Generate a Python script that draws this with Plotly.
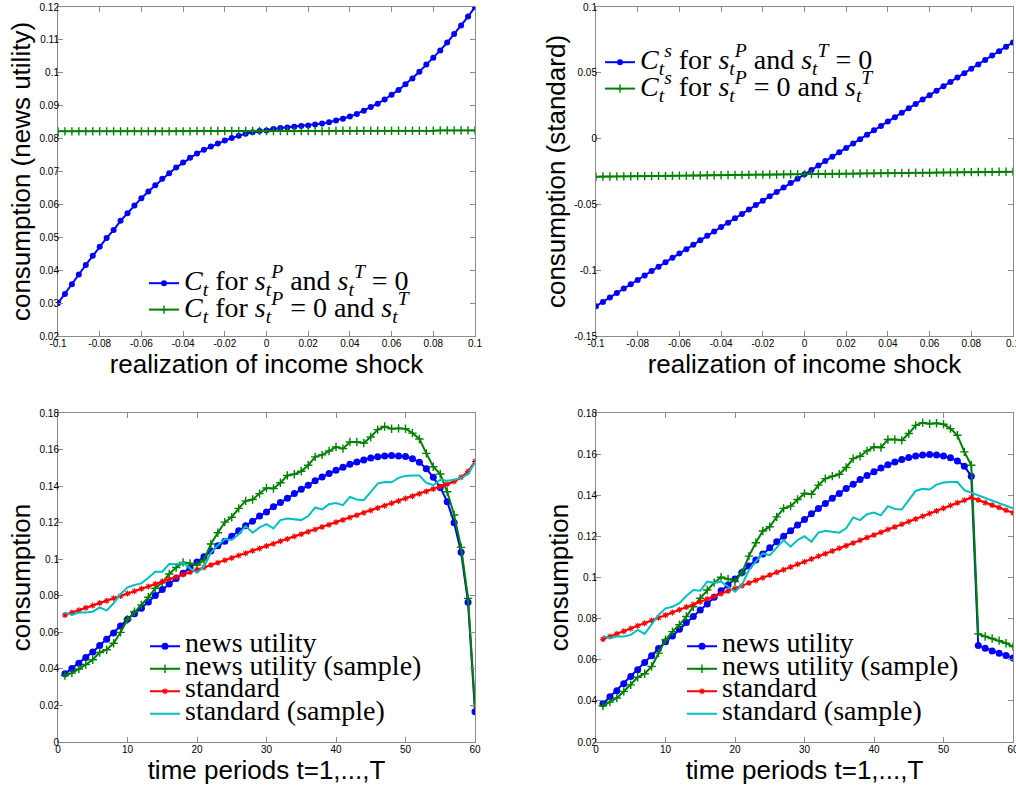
import plotly.graph_objects as go

# ---------------- data ----------------
# income-shock grid (61 evenly spaced realizations between -0.1 and 0.1)
shock = [round(-0.1 + i / 300.0, 6) for i in range(61)]

# top-left: news-utility consumption
nu_perm = [0.0300, 0.0328, 0.0357, 0.0387, 0.0416, 0.0444, 0.0471, 0.0498, 0.0522, 0.0550,
           0.0573, 0.0597, 0.0619, 0.0639, 0.0658, 0.0678, 0.0695, 0.0712, 0.0727, 0.0742,
           0.0755, 0.0766, 0.0776, 0.0785, 0.0794, 0.0802, 0.0809, 0.0815, 0.0819, 0.0823,
           0.0825, 0.0829, 0.0832, 0.0834, 0.0836, 0.0838, 0.0840, 0.0843, 0.0846, 0.0850,
           0.0855, 0.0860, 0.0867, 0.0875, 0.0885, 0.0896, 0.0906, 0.0919, 0.0933, 0.0948,
           0.0965, 0.0983, 0.1003, 0.1025, 0.1046, 0.1068, 0.1092, 0.1118, 0.1144, 0.1171,
           0.1200]
nu_trans = [0.0822, 0.0822, 0.0822, 0.0822, 0.0822, 0.0822, 0.0822, 0.0822, 0.0822, 0.0822,
            0.0822, 0.0822, 0.0822, 0.0822, 0.0822, 0.0822, 0.0822, 0.0822, 0.0822, 0.0822,
            0.0823, 0.0823, 0.0823, 0.0823, 0.0823, 0.0823, 0.0823, 0.0823, 0.0823, 0.0823,
            0.0823, 0.0823, 0.0823, 0.0823, 0.0823, 0.0823, 0.0823, 0.0823, 0.0823, 0.0823,
            0.0824, 0.0824, 0.0824, 0.0824, 0.0824, 0.0824, 0.0824, 0.0824, 0.0824, 0.0824,
            0.0824, 0.0824, 0.0824, 0.0824, 0.0824, 0.0825, 0.0825, 0.0825, 0.0825, 0.0825,
            0.0825]

# top-right: standard consumption
st_perm = [-0.1274, -0.1241, -0.1207, -0.1174, -0.1140, -0.1107, -0.1074, -0.1040, -0.1007, -0.0973,
           -0.0940, -0.0906, -0.0873, -0.0840, -0.0806, -0.0773, -0.0739, -0.0706, -0.0672, -0.0639,
           -0.0606, -0.0572, -0.0539, -0.0505, -0.0472, -0.0439, -0.0405, -0.0372, -0.0338, -0.0305,
           -0.0271, -0.0238, -0.0205, -0.0171, -0.0138, -0.0104, -0.0071, -0.0038, -0.0004, 0.0029,
           0.0063, 0.0096, 0.0130, 0.0163, 0.0196, 0.0230, 0.0263, 0.0297, 0.0330, 0.0364,
           0.0397, 0.0430, 0.0464, 0.0497, 0.0531, 0.0564, 0.0597, 0.0631, 0.0664, 0.0698,
           0.0731]
st_trans = [-0.0289, -0.0288, -0.0288, -0.0287, -0.0287, -0.0286, -0.0285, -0.0285, -0.0284, -0.0283,
            -0.0283, -0.0282, -0.0281, -0.0281, -0.0280, -0.0280, -0.0279, -0.0278, -0.0278, -0.0277,
            -0.0276, -0.0276, -0.0275, -0.0274, -0.0274, -0.0273, -0.0273, -0.0272, -0.0271, -0.0271,
            -0.0270, -0.0269, -0.0269, -0.0268, -0.0267, -0.0267, -0.0266, -0.0266, -0.0265, -0.0264,
            -0.0264, -0.0263, -0.0262, -0.0262, -0.0261, -0.0261, -0.0260, -0.0259, -0.0259, -0.0258,
            -0.0257, -0.0257, -0.0256, -0.0255, -0.0255, -0.0254, -0.0254, -0.0253, -0.0252, -0.0252,
            -0.0251]

# life-cycle profiles, t = 1..60
periods = list(range(1, 61))

bl_news = [0.0373, 0.0402, 0.0431, 0.0462, 0.0493, 0.0528, 0.0562, 0.0597, 0.0635, 0.0672,
           0.0702, 0.0732, 0.0766, 0.0801, 0.0835, 0.0864, 0.0895, 0.0923, 0.0954, 0.0985,
           0.1014, 0.1045, 0.1074, 0.1099, 0.1126, 0.1156, 0.1183, 0.1208, 0.1236, 0.1259,
           0.1287, 0.1310, 0.1334, 0.1359, 0.1383, 0.1405, 0.1429, 0.1450, 0.1469, 0.1487,
           0.1503, 0.1520, 0.1532, 0.1543, 0.1554, 0.1561, 0.1565, 0.1567, 0.1565, 0.1562,
           0.1550, 0.1530, 0.1495, 0.1448, 0.1393, 0.1315, 0.1200, 0.1038, 0.0764, 0.0166]
bl_news_s = [0.0364, 0.0377, 0.0399, 0.0424, 0.0450, 0.0490, 0.0505, 0.0540, 0.0600, 0.0670,
             0.0713, 0.0750, 0.0792, 0.0841, 0.0872, 0.0919, 0.0955, 0.0983, 0.0977, 0.0968,
             0.0995, 0.1083, 0.1145, 0.1203, 0.1230, 0.1278, 0.1319, 0.1327, 0.1359, 0.1390,
             0.1387, 0.1418, 0.1458, 0.1465, 0.1481, 0.1514, 0.1560, 0.1571, 0.1592, 0.1614,
             0.1605, 0.1641, 0.1641, 0.1636, 0.1669, 0.1709, 0.1726, 0.1714, 0.1716, 0.1714,
             0.1690, 0.1658, 0.1579, 0.1506, 0.1466, 0.1369, 0.1242, 0.1065, 0.0786, 0.0199]
bl_std = [0.0695, 0.0708, 0.0721, 0.0734, 0.0747, 0.0760, 0.0773, 0.0786, 0.0799, 0.0812,
          0.0825, 0.0838, 0.0851, 0.0864, 0.0877, 0.0890, 0.0903, 0.0916, 0.0929, 0.0942,
          0.0955, 0.0968, 0.0981, 0.0994, 0.1007, 0.1020, 0.1033, 0.1046, 0.1059, 0.1072,
          0.1085, 0.1098, 0.1111, 0.1124, 0.1137, 0.1150, 0.1163, 0.1176, 0.1189, 0.1202,
          0.1215, 0.1228, 0.1241, 0.1254, 0.1267, 0.1280, 0.1293, 0.1306, 0.1319, 0.1332,
          0.1345, 0.1358, 0.1371, 0.1384, 0.1397, 0.1410, 0.1425, 0.1448, 0.1480, 0.1535]
bl_std_s = [0.0708, 0.0695, 0.0708, 0.0708, 0.0713, 0.0737, 0.0719, 0.0759, 0.0810, 0.0846,
            0.0859, 0.0868, 0.0899, 0.0932, 0.0932, 0.0974, 0.0972, 0.0981, 0.0950, 0.0926,
            0.0959, 0.1037, 0.1077, 0.1110, 0.1105, 0.1137, 0.1181, 0.1145, 0.1174, 0.1192,
            0.1168, 0.1214, 0.1223, 0.1217, 0.1214, 0.1236, 0.1283, 0.1272, 0.1301, 0.1308,
            0.1296, 0.1341, 0.1327, 0.1323, 0.1369, 0.1414, 0.1423, 0.1421, 0.1445, 0.1456,
            0.1458, 0.1458, 0.1418, 0.1405, 0.1435, 0.1430, 0.1435, 0.1445, 0.1465, 0.1530]

br_news = [0.0386, 0.0420, 0.0449, 0.0483, 0.0519, 0.0551, 0.0587, 0.0619, 0.0655, 0.0687,
           0.0716, 0.0748, 0.0781, 0.0810, 0.0842, 0.0871, 0.0904, 0.0935, 0.0964, 0.0993,
           0.1024, 0.1056, 0.1085, 0.1114, 0.1145, 0.1174, 0.1201, 0.1227, 0.1255, 0.1282,
           0.1310, 0.1336, 0.1360, 0.1386, 0.1409, 0.1433, 0.1454, 0.1477, 0.1496, 0.1514,
           0.1533, 0.1548, 0.1562, 0.1574, 0.1583, 0.1591, 0.1596, 0.1598, 0.1596, 0.1591,
           0.1582, 0.1567, 0.1541, 0.1493, 0.0669, 0.0656, 0.0643, 0.0632, 0.0621, 0.0608]
br_news_s = [0.0376, 0.0394, 0.0414, 0.0446, 0.0478, 0.0515, 0.0532, 0.0567, 0.0632, 0.0697,
             0.0737, 0.0770, 0.0810, 0.0858, 0.0899, 0.0939, 0.0975, 0.1001, 0.0993, 0.0980,
             0.1024, 0.1104, 0.1169, 0.1226, 0.1247, 0.1295, 0.1336, 0.1347, 0.1379, 0.1409,
             0.1405, 0.1449, 0.1481, 0.1493, 0.1502, 0.1535, 0.1578, 0.1590, 0.1616, 0.1635,
             0.1632, 0.1671, 0.1671, 0.1667, 0.1700, 0.1740, 0.1753, 0.1748, 0.1750, 0.1745,
             0.1724, 0.1692, 0.1611, 0.1546, 0.0726, 0.0713, 0.0703, 0.0693, 0.0680, 0.0664]
br_std = [0.0700, 0.0713, 0.0726, 0.0739, 0.0752, 0.0765, 0.0778, 0.0791, 0.0804, 0.0817,
          0.0830, 0.0843, 0.0856, 0.0869, 0.0882, 0.0895, 0.0908, 0.0921, 0.0934, 0.0947,
          0.0960, 0.0973, 0.0986, 0.0999, 0.1012, 0.1025, 0.1038, 0.1051, 0.1064, 0.1077,
          0.1090, 0.1103, 0.1116, 0.1129, 0.1142, 0.1155, 0.1168, 0.1181, 0.1194, 0.1207,
          0.1220, 0.1233, 0.1246, 0.1259, 0.1272, 0.1285, 0.1298, 0.1311, 0.1324, 0.1337,
          0.1350, 0.1363, 0.1376, 0.1389, 0.1377, 0.1364, 0.1352, 0.1340, 0.1327, 0.1315]
br_std_s = [0.0716, 0.0705, 0.0713, 0.0713, 0.0721, 0.0745, 0.0726, 0.0770, 0.0818, 0.0850,
            0.0858, 0.0875, 0.0910, 0.0939, 0.0936, 0.0980, 0.0975, 0.0980, 0.0956, 0.0931,
            0.0964, 0.1036, 0.1077, 0.1117, 0.1109, 0.1146, 0.1182, 0.1150, 0.1182, 0.1201,
            0.1174, 0.1218, 0.1227, 0.1222, 0.1218, 0.1239, 0.1292, 0.1279, 0.1308, 0.1316,
            0.1302, 0.1347, 0.1333, 0.1331, 0.1376, 0.1421, 0.1431, 0.1428, 0.1452, 0.1462,
            0.1465, 0.1464, 0.1425, 0.1412, 0.1400, 0.1389, 0.1376, 0.1363, 0.1350, 0.1336]

# ticks
shock_tickvals = [-0.1, -0.08, -0.06, -0.04, -0.02, 0, 0.02, 0.04, 0.06, 0.08, 0.1]
shock_ticktext = ["-0.1", "-0.08", "-0.06", "-0.04", "-0.02", "0", "0.02", "0.04", "0.06", "0.08", "0.1"]
tl_tickvals = [0.02, 0.03, 0.04, 0.05, 0.06, 0.07, 0.08, 0.09, 0.1, 0.11, 0.12]
tl_ticktext = ["0.02", "0.03", "0.04", "0.05", "0.06", "0.07", "0.08", "0.09", "0.1", "0.11", "0.12"]
tr_tickvals = [-0.15, -0.1, -0.05, 0, 0.05, 0.1]
tr_ticktext = ["-0.15", "-0.1", "-0.05", "0", "0.05", "0.1"]
bl_tickvals = [0, 0.02, 0.04, 0.06, 0.08, 0.1, 0.12, 0.14, 0.16, 0.18]
bl_ticktext = ["0", "0.02", "0.04", "0.06", "0.08", "0.1", "0.12", "0.14", "0.16", "0.18"]
br_tickvals = [0.02, 0.04, 0.06, 0.08, 0.1, 0.12, 0.14, 0.16, 0.18]
br_ticktext = ["0.02", "0.04", "0.06", "0.08", "0.1", "0.12", "0.14", "0.16", "0.18"]
time_tickvals = [0, 10, 20, 30, 40, 50, 60]
time_ticktext = ["0", "10", "20", "30", "40", "50", "60"]

# legend labels
TOPSZ = 28
BOTSZ = 28
def big(s, sz):
    return '<span style="font-size:%dpx">%s</span>' % (sz, s)

tl_names = [big('<i>C</i><sub><i>t</i></sub> for <i>s</i><sub><i>t</i></sub><sup><i>P</i></sup> and '
                '<i>s</i><sub><i>t</i></sub><sup><i>T</i></sup> = 0', TOPSZ),
            big('<i>C</i><sub><i>t</i></sub> for <i>s</i><sub><i>t</i></sub><sup><i>P</i></sup> = 0 and '
                '<i>s</i><sub><i>t</i></sub><sup><i>T</i></sup>', TOPSZ)]
tr_names = [big('<i>C</i><sub><i>t</i></sub><sup><i>s</i></sup> for <i>s</i><sub><i>t</i></sub><sup><i>P</i></sup> and '
                '<i>s</i><sub><i>t</i></sub><sup><i>T</i></sup> = 0', TOPSZ),
            big('<i>C</i><sub><i>t</i></sub><sup><i>s</i></sup> for <i>s</i><sub><i>t</i></sub><sup><i>P</i></sup> = 0 and '
                '<i>s</i><sub><i>t</i></sub><sup><i>T</i></sup>', TOPSZ)]
bot_names = [big(s, BOTSZ) for s in ["news utility", "news utility (sample)", "standard", "standard (sample)"]]

BLUE = "#0000FF"
GREEN = "#008000"
RED = "#FF0000"
CYAN = "#00BFBF"

W, H = 1016, 788
def px_x(a, b):
    return [a / W, b / W]
def px_y(top, bottom):
    return [1 - bottom / H, 1 - top / H]

fig = go.Figure()

def blue_tr(x, y, name, xa, ya, leg, msize):
    return go.Scatter(x=x, y=y, name=name, xaxis=xa, yaxis=ya, legend=leg, mode="lines+markers",
                      line=dict(color=BLUE, width=2), marker=dict(symbol="circle", size=msize, color=BLUE))

def green_tr(x, y, name, xa, ya, leg):
    return go.Scatter(x=x, y=y, name=name, xaxis=xa, yaxis=ya, legend=leg, mode="lines+markers",
                      line=dict(color=GREEN, width=2),
                      marker=dict(symbol="cross-thin", size=6, color=GREEN, line=dict(color=GREEN, width=1.4)))

def red_tr(x, y, name, xa, ya, leg):
    return go.Scatter(x=x, y=y, name=name, xaxis=xa, yaxis=ya, legend=leg, mode="lines+markers",
                      line=dict(color=RED, width=2),
                      marker=dict(symbol="asterisk-open", size=5, color=RED, line=dict(color=RED, width=1.1)))

def cyan_tr(x, y, name, xa, ya, leg):
    return go.Scatter(x=x, y=y, name=name, xaxis=xa, yaxis=ya, legend=leg, mode="lines",
                      line=dict(color=CYAN, width=2))

# top-left
fig.add_trace(blue_tr(shock, nu_perm, tl_names[0], "x", "y", "legend", 6))
fig.add_trace(green_tr(shock, nu_trans, tl_names[1], "x", "y", "legend"))
# top-right
fig.add_trace(blue_tr(shock, st_perm, tr_names[0], "x2", "y2", "legend2", 6))
fig.add_trace(green_tr(shock, st_trans, tr_names[1], "x2", "y2", "legend2"))
# bottom-left
fig.add_trace(blue_tr(periods, bl_news, bot_names[0], "x3", "y3", "legend3", 7))
fig.add_trace(green_tr(periods, bl_news_s, bot_names[1], "x3", "y3", "legend3"))
fig.add_trace(red_tr(periods, bl_std, bot_names[2], "x3", "y3", "legend3"))
fig.add_trace(cyan_tr(periods, bl_std_s, bot_names[3], "x3", "y3", "legend3"))
# bottom-right
fig.add_trace(blue_tr(periods, br_news, bot_names[0], "x4", "y4", "legend4", 7))
fig.add_trace(green_tr(periods, br_news_s, bot_names[1], "x4", "y4", "legend4"))
fig.add_trace(red_tr(periods, br_std, bot_names[2], "x4", "y4", "legend4"))
fig.add_trace(cyan_tr(periods, br_std_s, bot_names[3], "x4", "y4", "legend4"))

AX_COL = "#8a8a8a"
TICKFONT = dict(family="Liberation Sans, Arial, sans-serif", size=10, color="#000000")
TITLEFONT = dict(family="Liberation Sans, Arial, sans-serif", size=26, color="#000000")

def axis(domain, rng, tickvals, ticktext, title, anchor, standoff, tls):
    return dict(domain=domain, range=rng, tickvals=tickvals, ticktext=ticktext,
                showline=True, linecolor=AX_COL, linewidth=1, mirror="allticks",
                ticks="inside", ticklen=5, tickcolor=AX_COL, tickwidth=1,
                showgrid=False, zeroline=False, tickfont=TICKFONT, ticklabelstandoff=tls,
                ticklabeloverflow="allow",
                title=dict(text=title, font=TITLEFONT, standoff=standoff), anchor=anchor,
                automargin=False)

top_y = px_y(7, 336)
bot_y = px_y(413, 742)
left_x = px_x(58, 475)
right_x = px_x(596, 1013)

fig.update_layout(
    width=W, height=H, margin=dict(l=0, r=0, t=0, b=0),
    paper_bgcolor="white", plot_bgcolor="white",
    showlegend=True,
    xaxis=axis(left_x, [-0.1, 0.1], shock_tickvals, shock_ticktext, "realization of income shock", "y", 1, -2),
    yaxis=axis(top_y, [0.02, 0.12], tl_tickvals, tl_ticktext, "consumption (news utility)", "x", 1, -4),
    xaxis2=axis(right_x, [-0.1, 0.1], shock_tickvals, shock_ticktext, "realization of income shock", "y2", 1, -2),
    yaxis2=axis(top_y, [-0.15, 0.1], tr_tickvals, tr_ticktext, "consumption (standard)", "x2", 1, -4),
    xaxis3=axis(left_x, [0, 60], time_tickvals, time_ticktext, "time periods t=1,...,T", "y3", 1, -2),
    yaxis3=axis(bot_y, [0, 0.18], bl_tickvals, bl_ticktext, "consumption", "x3", 1, -4),
    xaxis4=axis(right_x, [0, 60], time_tickvals, time_ticktext, "time periods t=1,...,T", "y4", 1, -2),
    yaxis4=axis(bot_y, [0.02, 0.18], br_tickvals, br_ticktext, "consumption", "x4", 1, -4),
)

LEGFONT_TOP = dict(family="Liberation Serif, Times New Roman, serif", size=18, color="#000000")
LEGFONT_BOT = dict(family="Liberation Serif, Times New Roman, serif", size=15, color="#000000")
def legend(xpx, ypx, font):
    return dict(x=xpx / W, y=1 - ypx / H, xanchor="left", yanchor="top", bgcolor="rgba(0,0,0,0)",
                borderwidth=0, font=font, tracegroupgap=0, itemclick=False)

fig.update_layout(
    legend=legend(144, 265, LEGFONT_TOP),
    legend2=legend(600, 44, LEGFONT_TOP),
    legend3=legend(145, 630, LEGFONT_BOT),
    legend4=legend(682, 630, LEGFONT_BOT),
)

fig.write_html("out.html", config={"displayModeBar": False},
               post_script="document.body.style.margin='0';document.body.style.overflow='hidden';")
